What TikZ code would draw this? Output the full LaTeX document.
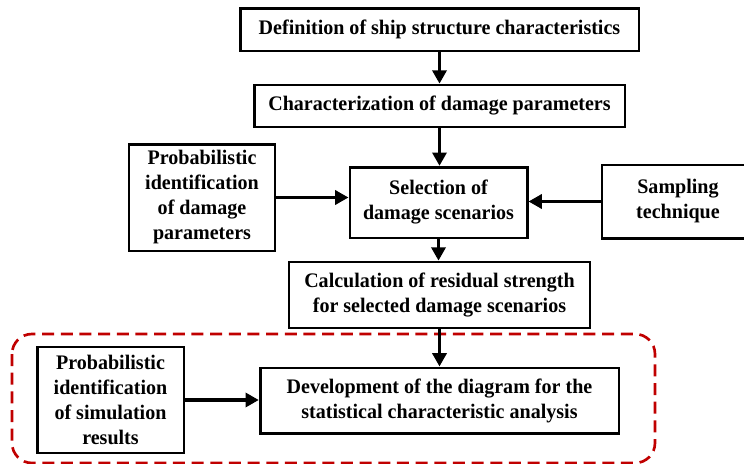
\documentclass[tikz,border=0pt]{standalone}
\usepackage{fontspec}
\setmainfont{Liberation Serif}[FakeStretch=0.97]
\usetikzlibrary{arrows.meta}
\usetikzlibrary{calc}
\usetikzlibrary{positioning}
\definecolor{frameRed}{RGB}{192,0,0}

\begin{document}
\begin{tikzpicture}[x=0.75pt,y=-0.75pt,
    stepbox/.style={draw,line width=2pt,align=center,inner sep=0pt,
      font=\bfseries\fontsize{15.5}{18.75}\selectfont},
    flow/.style={line width=2.9pt,-{Triangle[length=10pt,width=10.5pt]}}]
      \clip (0,0) rectangle (744,464);
      \draw[frameRed,line width=2pt,dash pattern=on 9pt off 5pt,rounded corners=15pt]
        (12,334) rectangle (655,463);
      \node[stepbox,minimum width=299pt,minimum height=32pt] (defChar) at (439.5,29.5) {Definition of ship structure characteristics};
      \node[stepbox,minimum width=278pt,minimum height=31.5pt] (dmgChar) at (439.5,106) {Characterization of damage parameters};
      \node[stepbox,minimum width=133pt,minimum height=53pt] (selScen) at (438.5,202.5) {Selection of\\damage scenarios};
      \node[stepbox,minimum width=109.5pt,minimum height=80pt] (probDmg) at (202,197.5) {Probabilistic\\identification\\of damage\\parameters};
      \node[stepbox,minimum width=114pt,minimum height=55pt] (sampTech) at (678,201.5) {Sampling\\technique};
      \node[stepbox,minimum width=225.75pt,minimum height=49.5pt] (calcRes) at (439.5,295) {Calculation of residual strength\\for selected damage scenarios};
      \node[stepbox,minimum width=269pt,minimum height=49pt] (devDiag) at (439.5,400.5) {Development of the diagram for the\\statistical characteristic analysis};
      \node[stepbox,minimum width=110pt,minimum height=79.5pt] (probSim) at (110.5,400) {Probabilistic\\identification\\of simulation\\results};
      \draw[flow] (defChar) -- (dmgChar);
      \draw[flow] (dmgChar) -- (dmgChar |- selScen.north);
      \draw[flow] (probDmg.east) -- (probDmg.east -| selScen.west);
      \draw[flow] (sampTech.west) -- (sampTech.west -| selScen.east);
      \draw[flow] (selScen.south) -- (selScen.south |- calcRes.north);
      \draw[flow] (calcRes.south) -- (calcRes.south |- devDiag.north);
      \draw[flow] (probSim.east) -- (probSim.east -| devDiag.west);
    \end{tikzpicture}
\end{document}
